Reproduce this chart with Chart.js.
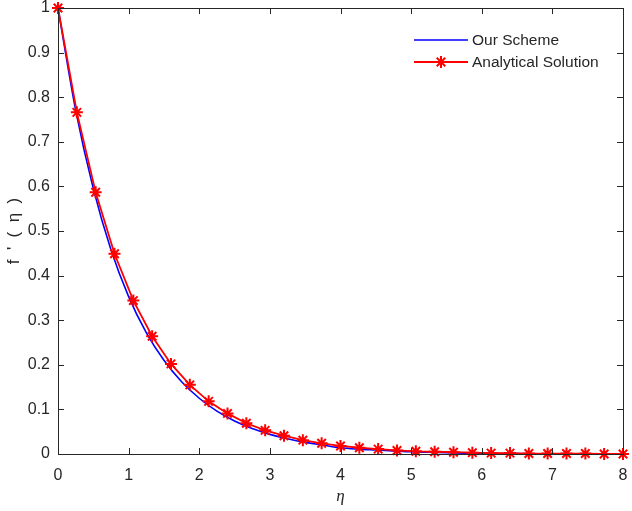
<!DOCTYPE html>
<html>
<head>
<meta charset="utf-8">
<script src="https://cdn.jsdelivr.net/npm/chart.js@4"></script>
<style>
html,body{margin:0;padding:0;background:#fff;}
canvas{display:block;}
</style>
</head>
<body>
<canvas id="c" width="632" height="511"></canvas>
<script>
// ---- data ----
const etaScheme = [0,0.25,0.5,0.75,1,1.25,1.5,1.75,2,2.25,2.5,2.75,3,3.25,3.5,3.75,4,4.25,4.5,4.75,5,5.25,5.5,5.75,6,6.25,6.5,6.75,7,7.25,7.5,7.75,8];
const fScheme = [1.000,0.771,0.595,0.458,0.353,0.272,0.210,0.162,0.125,0.096,0.074,0.057,0.044,0.034,0.026,0.020,0.014,0.011,0.009,0.007,0.005,0.004,0.003,0.002,0.001,0.001,0.001,0.000,0.000,0.000,0.000,0.000,0.000];
const etaExact = [0,0.267,0.533,0.8,1.067,1.333,1.6,1.867,2.133,2.4,2.667,2.933,3.2,3.467,3.733,4,4.267,4.533,4.8,5.067,5.333,5.6,5.867,6.133,6.4,6.667,6.933,7.2,7.467,7.733,8];
const fExact = [1.000,0.766,0.587,0.449,0.344,0.264,0.202,0.155,0.118,0.091,0.069,0.053,0.041,0.031,0.024,0.018,0.014,0.011,0.008,0.006,0.005,0.004,0.003,0.002,0.002,0.001,0.001,0.001,0.001,0.000,0.000];
const xTickLabels = ['0','1','2','3','4','5','6','7','8'];
const yTickLabels = ['0','0.1','0.2','0.3','0.4','0.5','0.6','0.7','0.8','0.9','1'];
const seriesNames = ['Our Scheme','Analytical Solution'];

const AXIS = '#262626';
const FONT = "'Liberation Sans', Arial, sans-serif";

const boxPlugin = {
  id: 'boxPlugin',
  afterDraw(chart) {
    const ctx = chart.ctx;
    const a = chart.chartArea;
    const xs = chart.scales.x, ys = chart.scales.y;
    ctx.save();
    ctx.strokeStyle = AXIS;
    ctx.lineWidth = 1;
    ctx.strokeRect(Math.round(a.left)+0.5, Math.round(a.top)+0.5, Math.round(a.right-a.left), Math.round(a.bottom-a.top));
    const tl = 6;
    ctx.beginPath();
    xs.ticks.forEach(t => {
      const px = Math.round(xs.getPixelForValue(t.value)) + 0.5;
      ctx.moveTo(px, a.bottom); ctx.lineTo(px, a.bottom - tl);
      ctx.moveTo(px, a.top); ctx.lineTo(px, a.top + tl);
    });
    ys.ticks.forEach(t => {
      const py = Math.round(ys.getPixelForValue(t.value)) + 0.5;
      ctx.moveTo(a.left, py); ctx.lineTo(a.left + tl, py);
      ctx.moveTo(a.right, py); ctx.lineTo(a.right - tl, py);
    });
    ctx.stroke();

    // legend
    const ds = chart.data.datasets;
    const lx0 = 414, lx1 = 468, tx = 472;
    const rows = [40, 62];
    ctx.font = '15.5px ' + FONT;
    ctx.textBaseline = 'middle';
    ctx.textAlign = 'left';
    ds.forEach((d, i) => {
      const y = rows[i];
      ctx.strokeStyle = d.borderColor;
      ctx.lineWidth = d.borderWidth;
      ctx.beginPath();
      ctx.moveTo(lx0, y); ctx.lineTo(lx1, y);
      ctx.stroke();
      if (d.pointRadius > 0) {
        ctx.lineWidth = d.pointBorderWidth;
        Chart.helpers.drawPoint(ctx, {pointStyle: d.pointStyle, radius: d.pointRadius, borderWidth: d.pointBorderWidth, rotation: 0}, (lx0+lx1)/2, y);
      }
      ctx.fillStyle = AXIS;
      ctx.fillText(d.label, tx, y + 1);
    });
    ctx.restore();
  }
};

new Chart(document.getElementById('c'), {
  type: 'line',
  data: {
    datasets: [
      {
        label: seriesNames[0],
        data: etaScheme.map((x, i) => ({x, y: fScheme[i]})),
        borderColor: '#0000ff',
        backgroundColor: '#0000ff',
        borderWidth: 1.6,
        pointRadius: 0,
        tension: 0.3,
        clip: false,
        order: 2
      },
      {
        label: seriesNames[1],
        data: etaExact.map((x, i) => ({x, y: fExact[i]})),
        borderColor: '#ff0000',
        backgroundColor: '#ff0000',
        borderWidth: 1.8,
        pointStyle: 'star',
        pointRadius: 6,
        pointBorderWidth: 2,
        pointBorderColor: '#ff0000',
        tension: 0,
        clip: false,
        order: 1
      }
    ]
  },
  options: {
    responsive: false,
    animation: false,
    devicePixelRatio: 1,
    layout: { padding: { left: 0, right: 9, top: 7, bottom: 0 } },
    plugins: { legend: { display: false }, tooltip: { enabled: false } },
    scales: {
      x: {
        type: 'linear', min: 0, max: 8,
        grid: { display: false },
        border: { display: false },
        ticks: {
          stepSize: 1, color: AXIS, padding: 4,
          font: { family: FONT, size: 16 },
          maxRotation: 0,
          callback: (v, i) => xTickLabels[i]
        },
        title: {
          display: true, text: 'η', color: AXIS,
          font: { family: "'Liberation Serif', 'DejaVu Serif', serif", size: 17, style: 'italic' },
          padding: { top: 0, bottom: 4 }
        },
        afterFit: s => { s.height = 57; s.paddingLeft = 0; s.paddingRight = 0; }
      },
      y: {
        type: 'linear', min: 0, max: 1,
        grid: { display: false, drawTicks: false },
        border: { display: false },
        ticks: {
          stepSize: 0.1, color: AXIS, padding: 8,
          font: { family: FONT, size: 16 },
          callback: (v, i) => yTickLabels[i]
        },
        title: {
          display: true, text: "f  '  (  η  )", color: AXIS,
          font: { family: FONT, size: 17 },
          padding: { top: 4, bottom: 0 }
        },
        afterFit: s => { s.width = 58; s.paddingTop = 0; s.paddingBottom = 0; }
      }
    }
  },
  plugins: [boxPlugin]
});
</script>
</body>
</html>
